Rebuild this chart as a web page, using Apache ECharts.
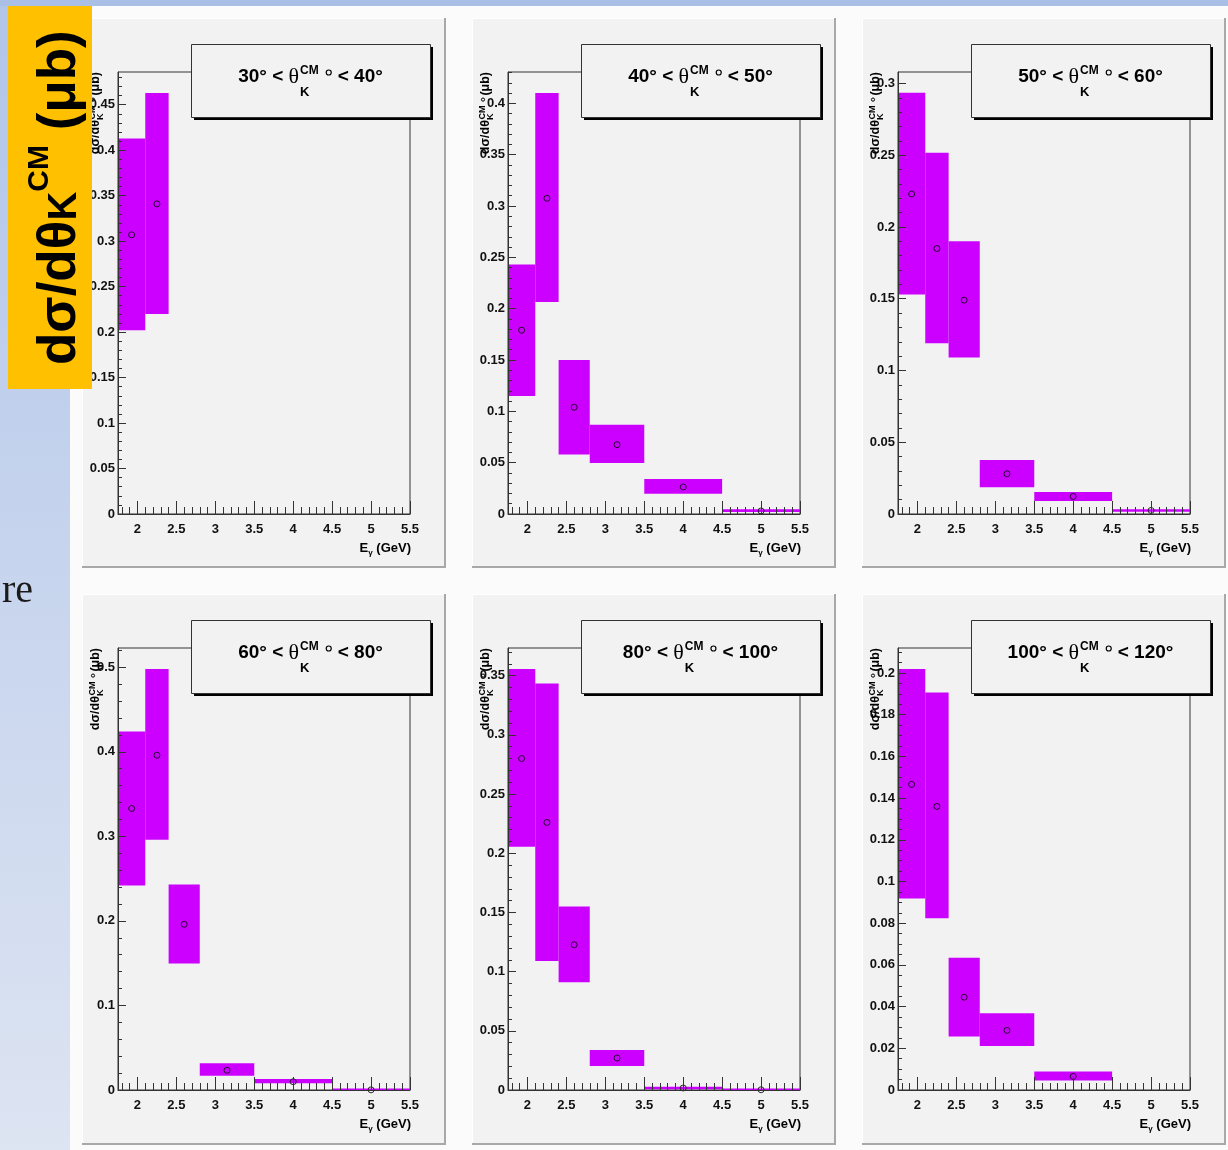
<!DOCTYPE html>
<html><head><meta charset="utf-8">
<script src="https://cdn.jsdelivr.net/npm/echarts@6.0.0/dist/echarts.min.js"></script>
<style>html,body{margin:0;padding:0;background:#fff}#c{width:1228px;height:1150px}</style>
</head><body><div id="c"></div>
<script>
// ---------------- data ----------------
const binEdges = [1.75, 2.1, 2.4, 2.8, 3.5, 4.5, 5.5];
const binCenters = [1.925, 2.25, 2.6, 3.15, 4.0, 5.0];
const xTickValues = [2, 2.5, 3, 3.5, 4, 4.5, 5, 5.5];
const angleLow = [30, 40, 50, 60, 80, 100];
const angleHigh = [40, 50, 60, 80, 100, 120];

const sigma30_40 = [0.307, 0.341];
const errLow30_40 = [0.202, 0.220];
const errHigh30_40 = [0.413, 0.463];

const sigma40_50 = [0.179, 0.3075, 0.104, 0.0675, 0.0263, 0.003];
const errLow40_50 = [0.115, 0.2065, 0.058, 0.0497, 0.0198, 0.0019];
const errHigh40_50 = [0.243, 0.410, 0.150, 0.087, 0.0341, 0.0046];

const sigma50_60 = [0.223, 0.185, 0.149, 0.028, 0.0122, 0.0025];
const errLow50_60 = [0.153, 0.119, 0.109, 0.0187, 0.0091, 0.0015];
const errHigh50_60 = [0.2936, 0.2518, 0.190, 0.0377, 0.0153, 0.0033];

const sigma60_80 = [0.333, 0.396, 0.196, 0.0233, 0.0098, 0.0002];
const errLow60_80 = [0.242, 0.296, 0.1496, 0.0169, 0.0079, 0];
const errHigh60_80 = [0.424, 0.498, 0.243, 0.0315, 0.013, 0.0008];

const sigma80_100 = [0.280, 0.226, 0.1227, 0.027, 0.0017, 0.0002];
const errLow80_100 = [0.2055, 0.109, 0.091, 0.0203, 0.0006, 0];
const errHigh80_100 = [0.3556, 0.3435, 0.155, 0.0338, 0.0028, 0.0006];

const sigma100_120 = [0.1466, 0.136, 0.0445, 0.0286, 0.0065];
const errLow100_120 = [0.0918, 0.0824, 0.0257, 0.0211, 0.0045];
const errHigh100_120 = [0.2019, 0.1906, 0.0634, 0.0368, 0.0089];

const yTicks30_40 = [0, 0.05, 0.1, 0.15, 0.2, 0.25, 0.3, 0.35, 0.4, 0.45];
const yTicks40_50 = [0, 0.05, 0.1, 0.15, 0.2, 0.25, 0.3, 0.35, 0.4];
const yTicks50_60 = [0, 0.05, 0.1, 0.15, 0.2, 0.25, 0.3];
const yTicks60_80 = [0, 0.1, 0.2, 0.3, 0.4, 0.5];
const yTicks80_100 = [0, 0.05, 0.1, 0.15, 0.2, 0.25, 0.3, 0.35];
const yTicks100_120 = [0, 0.02, 0.04, 0.06, 0.08, 0.1, 0.12, 0.14, 0.16, 0.18, 0.2];
const yMax = [0.486, 0.4305, 0.308, 0.5228, 0.3734, 0.212];
const yMinorStep = [0.01, 0.01, 0.01, 0.02, 0.01, 0.005];
const xMinorStep = 0.1;

const sigmaSets = [sigma30_40, sigma40_50, sigma50_60, sigma60_80, sigma80_100, sigma100_120];
const lowSets = [errLow30_40, errLow40_50, errLow50_60, errLow60_80, errLow80_100, errLow100_120];
const highSets = [errHigh30_40, errHigh40_50, errHigh50_60, errHigh60_80, errHigh80_100, errHigh100_120];
const yTickSets = [yTicks30_40, yTicks40_50, yTicks50_60, yTicks60_80, yTicks80_100, yTicks100_120];

// ---------------- layout ----------------
const SANS = '"Liberation Sans", Arial, Helvetica, sans-serif';
const SERIF = '"Liberation Serif", "Times New Roman", serif';
const MAG = '#cc00ff';
const panelX = [82, 472, 862], panelY = [18, 594], panelW = 364, panelH = [550, 551];
const mctx = document.createElement('canvas').getContext('2d');
function tw(t, f) { mctx.font = f; return mctx.measureText(t).width; }
function minorTicks(max, step, majors) {
  const out = [];
  for (let k = 1; k * step <= max + 1e-9; k++) {
    const v = +(k * step).toFixed(4);
    if (!majors.some(m => Math.abs(m - v) < 1e-6)) out.push(v);
  }
  return out;
}
const xMinor = [];
for (let k = 18; k <= 54; k++) { const v = +(k * xMinorStep).toFixed(2); if (!xTickValues.some(m => Math.abs(m - v) < 1e-6)) xMinor.push(v); }

const grids = [], xAxes = [], yAxes = [], series = [], graphics = [];

// slide background
graphics.push({ type: 'rect', z: -20, shape: { x: 0, y: 0, width: 1228, height: 1150 }, style: { fill: '#fbfbfb' } });
graphics.push({ type: 'rect', z: -19, shape: { x: 0, y: 0, width: 70, height: 1150 },
  style: { fill: new echarts.graphic.LinearGradient(0, 0, 0, 1, [{ offset: 0, color: '#b1c5e9' }, { offset: 1, color: '#dde4f2' }]) } });
graphics.push({ type: 'rect', z: -19, shape: { x: 0, y: 0, width: 1228, height: 6 }, style: { fill: '#a9bfe6' } });
graphics.push({ type: 'text', z: -18, x: 33, y: 591, style: { text: 're', font: '40px ' + SERIF, fill: '#1a1a1a', align: 'right', verticalAlign: 'middle', textAlign: 'right', textVerticalAlign: 'middle' } });

function txt(x, y, text, font, align) {
  return { type: 'text', x, y, z: 12, style: { text, font, fill: '#000', align: align || 'left', verticalAlign: 'middle', textAlign: align || 'left', textVerticalAlign: 'middle' } };
}

for (let i = 0; i < 6; i++) {
  const row = i < 3 ? 0 : 1, col = i % 3;
  const px = panelX[col], py = panelY[row], ph = panelH[row];
  const gl = px + 36, gt = py + 54, gw = 292, gh = 442;
  // panel canvas
  graphics.push({ type: 'rect', z: -10, shape: { x: px, y: py, width: panelW, height: ph }, style: { fill: '#f2f2f2' } });
  graphics.push({ type: 'polyline', z: -9, shape: { points: [[px + 0.5, py + ph], [px + 0.5, py + 0.5], [px + panelW, py + 0.5]] }, style: { stroke: '#ffffff', lineWidth: 1, fill: null } });
  graphics.push({ type: 'polyline', z: -9, shape: { points: [[px, py + ph - 1], [px + panelW - 1, py + ph - 1], [px + panelW - 1, py]] }, style: { stroke: '#a8a8a8', lineWidth: 2, fill: null } });

  grids.push({ left: gl, top: gt, width: gw, height: gh, show: true, borderColor: '#333', borderWidth: 1, backgroundColor: 'transparent', z: 1 });
  const labelStyle = { fontFamily: SANS, fontWeight: 'bold', fontSize: 13, color: '#111' };
  xAxes.push({ gridIndex: i, type: 'value', position: 'bottom', min: 1.75, max: 5.5, z: 5,
    axisLine: { show: true, onZero: false, lineStyle: { color: '#333', width: 1 } },
    axisTick: { show: true, inside: true, length: 13, customValues: xTickValues, lineStyle: { color: '#333' } },
    axisLabel: Object.assign({ customValues: xTickValues, margin: 9 }, labelStyle),
    splitLine: { show: false } });
  xAxes.push({ gridIndex: i, type: 'value', position: 'bottom', min: 1.75, max: 5.5, z: 5,
    axisLine: { show: false, onZero: false },
    axisTick: { show: true, inside: true, length: 7, customValues: xMinor, lineStyle: { color: '#333' } },
    axisLabel: { show: false }, splitLine: { show: false } });
  const yt = yTickSets[i];
  yAxes.push({ gridIndex: i, type: 'value', position: 'left', min: 0, max: yMax[i], z: 5,
    axisLine: { show: true, onZero: false, lineStyle: { color: '#333', width: 1 } },
    axisTick: { show: true, inside: true, length: 8, customValues: yt, lineStyle: { color: '#333' } },
    axisLabel: Object.assign({ customValues: yt, margin: 3 }, labelStyle),
    splitLine: { show: false } });
  yAxes.push({ gridIndex: i, type: 'value', position: 'left', offset: 0, min: 0, max: yMax[i], z: 5,
    axisLine: { show: false, onZero: false },
    axisTick: { show: true, inside: true, length: 4, customValues: minorTicks(yMax[i], yMinorStep[i], yt), lineStyle: { color: '#333' } },
    axisLabel: { show: false }, splitLine: { show: false } });

  const sig = sigmaSets[i], lo = lowSets[i], hi = highSets[i];
  series.push({ type: 'custom', xAxisIndex: 2 * i, yAxisIndex: 2 * i, z: 3,
    data: sig.map((_, k) => [binEdges[k], binEdges[k + 1], lo[k], hi[k]]),
    encode: { x: [0, 1], y: [2, 3] },
    renderItem: function (params, api) {
      const p0 = api.coord([api.value(0), api.value(3)]);
      const p1 = api.coord([api.value(1), api.value(2)]);
      const h = Math.max(p1[1] - p0[1], 1.5);
      return { type: 'rect', shape: { x: p0[0], y: p1[1] - h, width: p1[0] - p0[0], height: h }, style: { fill: MAG } };
    } });
  series.push({ type: 'scatter', xAxisIndex: 2 * i, yAxisIndex: 2 * i, z: 4,
    data: sig.map((v, k) => [binCenters[k], v]),
    symbol: 'circle', symbolSize: 6,
    itemStyle: { color: 'rgba(0,0,0,0)', borderColor: '#000', borderWidth: 1 } });

  // title box
  const bx = px + 109, by = py + 26, bw = 239, bh = 73;
  graphics.push({ type: 'rect', z: 10, shape: { x: bx + 3, y: by + 3, width: bw, height: bh }, style: { fill: '#000' } });
  graphics.push({ type: 'rect', z: 11, shape: { x: bx + 0.5, y: by + 0.5, width: bw, height: bh }, style: { fill: '#f2f2f2', stroke: '#333', lineWidth: 1 } });
  const fMain = 'bold 19px ' + SANS, fTheta = '22px ' + SERIF, fSup = 'bold 12px ' + SANS, fSub = 'bold 13px ' + SANS;
  const a = angleLow[i] + '° < ', b = '< ' + angleHigh[i] + '°';
  const wa = tw(a, fMain), wt = tw('θ', fTheta), wcm = tw('CM', fSup), wb = tw(b, fMain);
  const total = wa + wt + 1 + wcm + 10 + 9 + wb;
  let x = bx + bw / 2 - total / 2;
  graphics.push(txt(x, by + 33, a, fMain));
  graphics.push(txt(x + wa, by + 33.5, 'θ', fTheta));
  graphics.push(txt(x + wa + wt + 1, by + 27, 'CM', fSup));
  graphics.push(txt(x + wa + wt + 1, by + 48, 'K', fSub));
  const rx = x + wa + wt + 1 + wcm + 10;
  graphics.push({ type: 'circle', z: 12, shape: { cx: rx, cy: by + 28.5, r: 2.5 }, style: { fill: null, stroke: '#000', lineWidth: 1.2 } });
  graphics.push(txt(rx + 9, by + 33, b, fMain));

  // x axis title
  const fX = 'bold 13px ' + SANS, fXs = 'bold 8px ' + SANS;
  const wE = tw('E', fX), wg = tw('γ', fXs), wG = tw(' (GeV)', fX);
  const xr = gl + gw + 1, ay = gt + gh;
  const xs = xr - (wE + wg + wG);
  graphics.push(txt(xs, ay + 34, 'E', fX));
  graphics.push(txt(xs + wE, ay + 39, 'γ', fXs));
  graphics.push(txt(xs + wE + wg, ay + 34, ' (GeV)', fX));

  // y axis title (rotated)
  const fY = 'bold 12.5px ' + SANS, fYs = 'bold 9px ' + SANS;
  const w1 = tw('dσ/dθ', fY), wc = tw('CM', fYs), w2 = tw('(μb)', fY);
  const ytot = w1 + 0.5 + wc + 10 + w2;
  const ch = (t, ax, ly, f) => ({ type: 'text', z: 6, x: ax, y: ly, style: { text: t, font: f, fill: '#000', align: 'left', verticalAlign: 'middle', textAlign: 'left', textVerticalAlign: 'middle' } });
  graphics.push({ type: 'group', z: 6, x: gl - 18, y: gt + ytot, rotation: Math.PI / 2, children: [
    ch('dσ/dθ', 0, -4.5, fY),
    ch('K', w1, 0.5, fYs),
    ch('CM', w1 + 0.5, -7.5, fYs),
    { type: 'circle', z: 6, shape: { cx: w1 + 0.5 + wc + 6, cy: -7, r: 1.6 }, style: { fill: null, stroke: '#000', lineWidth: 1 } },
    ch('(μb)', w1 + 0.5 + wc + 10, -4.5, fY)
  ] });
}

// orange label box
graphics.push({ type: 'rect', z: 30, shape: { x: 8, y: 6, width: 84, height: 383 }, style: { fill: '#ffc000' } });
(function () {
  const fB = 'bold 53px ' + SANS, fK = 'bold 40px ' + SANS, fC = 'bold 30px ' + SANS;
  const w1 = tw('dσ/dθ', fB), wK = tw('K', fK), wC = tw('CM', fC), wS = tw(' ', fB);
  const ch = (t, ax, ly, f) => ({ type: 'text', z: 32, x: ax, y: ly, style: { text: t, font: f, fill: '#000', align: 'left', verticalAlign: 'middle', textAlign: 'left', textVerticalAlign: 'middle' } });
  graphics.push({ type: 'group', z: 32, x: 79, y: 365, rotation: Math.PI / 2, children: [
    ch('dσ/dθ', 0, -19, fB),
    ch('K', w1, -14, fK),
    ch('CM', w1 + wK, -39, fC),
    ch('(μb)', w1 + wK + wC + wS, -19, fB)
  ] });
})();

const chart = echarts.init(document.getElementById('c'), null, { renderer: 'canvas' });
chart.setOption({
  animation: false,
  backgroundColor: '#fbfbfb',
  grid: grids, xAxis: xAxes, yAxis: yAxes, series: series,
  graphic: { elements: graphics }
});
</script></body></html>
